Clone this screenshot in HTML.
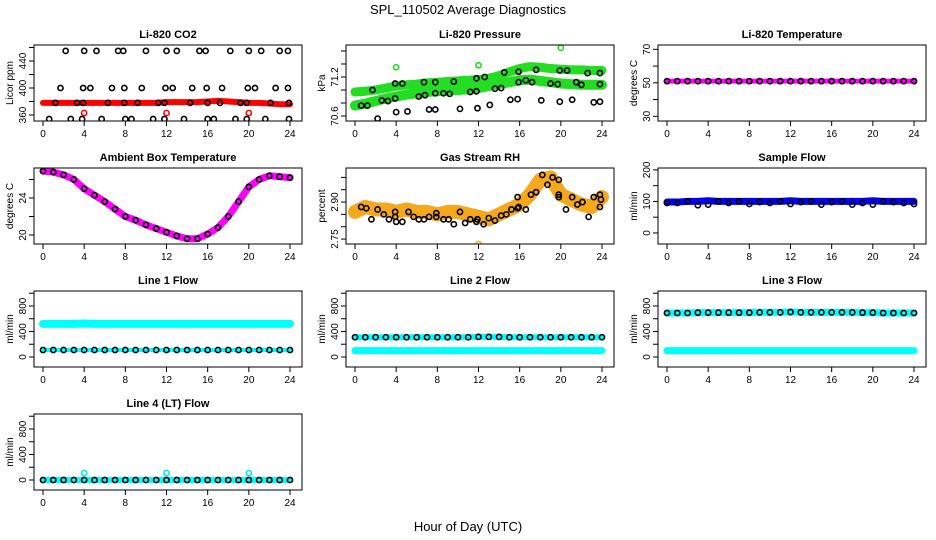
<!DOCTYPE html>
<html><head><meta charset="utf-8"><style>
body{margin:0;background:#fff;}
svg{display:block;font-family:"Liberation Sans",sans-serif;}
</style></head><body>
<svg id="c" width="936" height="540" viewBox="0 0 936 540">
<text x="468" y="14" text-anchor="middle" font-size="13">SPL_110502  Average Diagnostics</text>
<text x="468" y="531" text-anchor="middle" font-size="13">Hour of Day (UTC)</text>
</svg>
<script>
// ---------- data ----------
const hours = [0,1,2,3,4,5,6,7,8,9,10,11,12,13,14,15,16,17,18,19,20,21,22,23,24];
const xTicks = [0,4,8,12,16,20,24];

const co2Band = [378,378,378,378,378,378,378,378,378,378,378,378,379,379,379,379,380,381,380,379,378,378,377,376,376];
const co2TopH = [2.2,4,5.2,7.3,7.8,10,12,13,15.2,15.8,18.2,20,21.2,23,23.8];
const co2TopV = [455,455,455,455,455,455,455,455,455,455,455,455,455,455,455];
const co2MidH = [1.7,3.9,4.6,6.7,7.9,9.6,11.9,12.6,14.5,15.9,17.4,19.9,20.6,22.6,23.8];
const co2MidV = [400,400,400,400,400,400,400,400,400,400,400,400,400,400,400];
const co2LowH = [1.2,3.3,3.9,6.3,7.9,9.2,11.2,11.8,14.3,16,17.2,19.2,19.8,22.1,23.9];
const co2LowV = [378,378,378,378,378,378,378,378,378,378,378,378,378,378,378];
const co2BotH = [0.6,2.7,3.8,5.7,8,8.6,10.7,11.8,13.7,16,16.6,18.7,19.8,21.6,23.9];
const co2BotV = [354,354,354,354,354,354,354,354,354,354,354,354,354,354,354];
const co2RedH = [4,12,20];
const co2RedV = [363,363,363];

const presUpper = [70.97,70.98,71.0,71.03,71.06,71.08,71.09,71.11,71.12,71.13,71.14,71.15,71.16,71.18,71.22,71.28,71.33,71.36,71.35,71.33,71.32,71.31,71.31,71.30,71.30];
const presLower = [70.76,70.79,70.83,70.87,70.9,70.93,70.95,70.97,70.98,70.99,71.0,71.01,71.03,71.06,71.09,71.12,71.15,71.16,71.14,71.12,71.1,71.09,71.08,71.08,71.08];
const presUpH = [1.7,3.9,4.6,6.7,7.8,9.6,11.8,12.6,14.5,15.9,17.6,19.9,20.6,22.6,23.8];
const presUpV = [71.0,71.1,71.1,71.12,71.12,71.13,71.18,71.2,71.27,71.28,71.31,71.3,71.3,71.26,71.26];
const presLoH = [0.6,1.2,2.6,3.2,3.9,6.2,6.8,7.8,8.6,9.2,11.2,11.8,13.6,14.2,15.9,16.6,17.2,19,19.7,21.5,22,23.8];
const presLoV = [70.76,70.76,70.84,70.83,70.87,70.9,70.92,70.95,70.95,70.94,70.97,70.98,71.02,71.03,71.12,71.15,71.12,71.1,71.09,71.12,71.08,71.09];
const presBotH = [2.2,4,5.1,7.2,7.8,10.2,11.9,13.1,15.1,15.8,18.1,19.9,21.1,23.2,23.8];
const presBotV = [70.56,70.66,70.67,70.7,70.7,70.71,70.72,70.77,70.85,70.86,70.84,70.82,70.85,70.81,70.82];
const presGrnH = [4,12,20];
const presGrnV = [71.35,71.38,71.65];

const tempVals = [51,51,51,51,51,51,51,51,51,51,51,51,51,51,51,51,51,51,51,51,51,51,51,51,51];

const ambVals = [26.9,26.8,26.5,26.0,25.0,24.3,23.6,22.8,22.0,21.6,21.1,20.7,20.3,19.9,19.6,19.6,20.1,20.8,22.0,23.6,25.2,26.0,26.4,26.3,26.2];

const rhBand = [2.86,2.88,2.87,2.87,2.86,2.87,2.86,2.86,2.85,2.86,2.86,2.85,2.84,2.83,2.85,2.87,2.89,2.93,2.99,3.00,2.93,2.91,2.89,2.88,2.92];
const rhH = [0.6,1.1,2.2,1.6,2.8,3.3,3.9,3.9,4,4.6,5.2,5.7,6.2,6.7,7.2,7.9,7.9,8.6,9.1,9.6,10.2,10.7,11.2,11.9,11.8,12.5,13,13.6,14.2,14.7,15.2,15.8,15.8,15.9,16.6,17.1,17.6,18.2,18.7,19.2,19.8,19.8,19.8,20.5,21.1,21.6,22.1,22.7,23.2,23.8,23.8,23.9];
const rhV = [2.88,2.875,2.87,2.83,2.85,2.83,2.86,2.84,2.82,2.82,2.86,2.84,2.83,2.83,2.84,2.855,2.84,2.83,2.83,2.81,2.86,2.815,2.83,2.83,2.82,2.81,2.835,2.825,2.845,2.85,2.87,2.875,2.92,2.88,2.87,2.93,2.94,3.01,2.97,3.0,2.99,2.93,2.92,2.87,2.92,2.89,2.9,2.84,2.92,2.93,2.88,2.91];
const rhOutH = [12];
const rhOutV = [2.73];

const sampleBand = [98,98,100,100,102,100,100,100,100,100,100,100,102,100,100,100,100,100,100,100,102,100,100,100,100];
const sampleVals = [95,95,100,88,90,100,95,100,92,98,95,100,92,98,100,90,98,100,90,95,90,100,98,95,92];

const l1Cyan = [520,520,520,520,525,520,520,520,520,520,520,520,520,520,520,520,520,520,520,520,520,520,520,520,520];
const l1Black = [110,110,110,110,110,110,110,110,110,110,110,110,110,110,110,110,110,110,110,110,110,110,110,110,110];
const l2Black = [310,310,310,310,310,310,310,310,310,310,310,310,315,315,315,310,310,310,310,310,310,310,310,310,310];
const l2Cyan = [100,100,100,100,100,100,100,100,100,100,100,100,100,100,100,100,100,100,100,100,100,100,100,100,100];
const l3Black = [690,690,690,695,695,695,695,695,695,700,700,700,705,700,700,700,700,700,700,695,695,690,690,690,690];
const l3Cyan = [100,100,100,100,100,100,100,100,100,100,100,100,100,100,100,100,100,100,100,100,100,100,100,100,100];
const l4Vals = [0,0,0,0,0,0,0,0,0,0,0,0,0,0,0,0,0,0,0,0,0,0,0,0,0];
const l4SpikeH = [4,12,20];
const l4SpikeV = [110,110,110];

// ---------- drawing ----------
const NS = "http://www.w3.org/2000/svg";
const svg = document.getElementById('c');
function mk(tag, attrs, parent){
  const e = document.createElementNS(NS, tag);
  for (const k in attrs) e.setAttribute(k, attrs[k]);
  (parent||svg).appendChild(e);
  return e;
}

function panel(cfg){
  const ox = cfg.col*312, top = 45 + cfg.row*123, bot = top+76;
  const L = ox+34, R = ox+302;
  const g = mk('g', {});
  
  
  const xs = h => ox+43 + h*(247/24);
  const ys = v => bot - (v-cfg.ymin)/(cfg.ymax-cfg.ymin)*76;
  // title
  const t = mk('text', {x:(L+R)/2, y:top-7, 'text-anchor':'middle','font-size':11,'font-weight':'bold'}, g);
  t.textContent = cfg.title;
  
  
  // series
  const clip = 'clip'+cfg.col+cfg.row;
  const cp = mk('clipPath', {id:clip}, g);
  mk('rect', {x:L, y:top, width:R-L, height:76}, cp);
  const sg = mk('g', {'clip-path':'url(#'+clip+')'}, g);
  cfg.series.forEach(s=>{
    if (s.type==='band'){
      const pts = hours.map((h,i)=>xs(h)+','+ys(s.v[i])).join(' ');
      const p = mk('polyline', {points:pts, fill:'none', stroke:s.color, 'stroke-width':s.w, 'stroke-linejoin':'round','stroke-linecap':'round'}, sg);
      
      
    } else {
      const hh = s.h || hours;
      hh.forEach((h,i)=>{
        const c = mk('circle', {cx:xs(h), cy:ys(s.v[i]), r:s.r||2.6, fill:'none', stroke:s.color, 'stroke-width':1.6}, sg);
        
        
      });
    }
  });
  // box
  const box = mk('rect', {x:L, y:top, width:R-L, height:76, fill:'none', stroke:'#000','stroke-width':1}, g);
  
  
  // x axis
  xTicks.forEach(h=>{
    mk('line', {x1:xs(h), x2:xs(h), y1:bot, y2:bot+5, stroke:'#000'}, g);
    const tl = mk('text', {x:xs(h), y:bot+16, 'text-anchor':'middle','font-size':10}, g);
    tl.textContent = h;
    
    
  });
  // y axis
  cfg.yticks.forEach(v=>{
    mk('line', {x1:L-5, x2:L, y1:ys(v), y2:ys(v), stroke:'#000'}, g);
  });
  cfg.ylabels.forEach(v=>{
    const yl = mk('text', {x:0,y:0,'text-anchor':'middle','font-size':10, transform:'translate('+(L-8)+','+ys(v)+') rotate(-90)'}, g);
    yl.textContent = v;
    
    
  });
  const ya = mk('text', {x:0,y:0,'text-anchor':'middle','font-size':10, transform:'translate('+(L-21)+','+(top+38)+') rotate(-90)'}, g);
  ya.textContent = cfg.ylab;
  
  
}

panel({name:'co2-panel', col:0,row:0,title:'Li-820 CO2',ylab:'Licor ppm',ymin:351.1,ymax:463.7,
  yticks:[360,380,400,420,440,460], ylabels:[360,400,440],
  series:[{type:'band',v:co2Band,color:'#ff0000',w:6,name:'co2-band'},
    {type:'pts',h:co2TopH,v:co2TopV,color:'#000',name:'co2-point'},
    {type:'pts',h:co2MidH,v:co2MidV,color:'#000',name:'co2-point'},
    {type:'pts',h:co2LowH,v:co2LowV,color:'#000',name:'co2-point'},
    {type:'pts',h:co2BotH,v:co2BotV,color:'#000',name:'co2-point'},
    {type:'pts',h:co2RedH,v:co2RedV,color:'#ff0000',name:'co2-red-point'}]});

panel({name:'pressure-panel', col:1,row:0,title:'Li-820 Pressure',ylab:'kPa',ymin:70.523,ymax:71.692,
  yticks:[70.6,70.8,71.0,71.2,71.4,71.6], ylabels:[70.6,71.2],
  series:[{type:'band',v:presUpper,color:'#22dd22',w:9,name:'pressure-upper-band'},
    {type:'band',v:presLower,color:'#22dd22',w:10,name:'pressure-lower-band'},
    {type:'pts',h:presUpH,v:presUpV,color:'#000',name:'pressure-point'},
    {type:'pts',h:presLoH,v:presLoV,color:'#000',name:'pressure-point'},
    {type:'pts',h:presBotH,v:presBotV,color:'#000',name:'pressure-point'},
    {type:'pts',h:presGrnH,v:presGrnV,color:'#22dd22',name:'pressure-green-point'}]});

panel({name:'temperature-panel', col:2,row:0,title:'Li-820 Temperature',ylab:'degrees C',ymin:27.2,ymax:72.6,
  yticks:[30,40,50,60,70], ylabels:[30,50,70],
  series:[{type:'band',v:tempVals,color:'#ff00ff',w:5,name:'temperature-band'},
    {type:'pts',v:tempVals,color:'#000',name:'temperature-point'}]});

panel({name:'ambient-panel', col:0,row:1,title:'Ambient Box Temperature',ylab:'degrees C',ymin:19.03,ymax:27.24,
  yticks:[20,22,24,26], ylabels:[20,24],
  series:[{type:'band',v:ambVals,color:'#ff00ff',w:7,name:'ambient-band'},
    {type:'pts',v:ambVals,color:'#000',name:'ambient-point'}]});

panel({name:'rh-panel', col:1,row:1,title:'Gas Stream RH',ylab:'percent',ymin:2.730,ymax:3.038,
  yticks:[2.75,2.80,2.85,2.90,2.95,3.00], ylabels:['2.75','2.90'],
  series:[{type:'band',v:rhBand,color:'#f5a81c',w:14,name:'rh-band'},
    {type:'pts',h:rhH,v:rhV,color:'#000',name:'rh-point'},
    {type:'pts',h:rhOutH,v:rhOutV,color:'#f5a81c',name:'rh-outlier'}]});

panel({name:'sample-flow-panel', col:2,row:1,title:'Sample Flow',ylab:'ml/min',ymin:-35,ymax:206,
  yticks:[0,50,100,150,200], ylabels:[0,100,200],
  series:[{type:'band',v:sampleBand,color:'#0000ff',w:7,name:'sample-flow-band'},
    {type:'pts',v:sampleVals,color:'#000',name:'sample-flow-point'}]});

panel({name:'line1-panel', col:0,row:2,title:'Line 1 Flow',ylab:'ml/min',ymin:-157,ymax:1035,
  yticks:[0,200,400,600,800,1000], ylabels:[0,400,800],
  series:[{type:'band',v:l1Cyan,color:'#00ffff',w:8,name:'line1-cyan-band'},
    {type:'band',v:l1Black,color:'#00ffff',w:4,name:'line1-low-band'},
    {type:'pts',v:l1Black,color:'#000',name:'line1-point'}]});

panel({name:'line2-panel', col:1,row:2,title:'Line 2 Flow',ylab:'ml/min',ymin:-157,ymax:1035,
  yticks:[0,200,400,600,800,1000], ylabels:[0,400,800],
  series:[{type:'band',v:l2Black,color:'#00ffff',w:6,name:'line2-high-band'},
    {type:'band',v:l2Cyan,color:'#00ffff',w:7,name:'line2-cyan-band'},
    {type:'pts',v:l2Black,color:'#000',name:'line2-point'}]});

panel({name:'line3-panel', col:2,row:2,title:'Line 3 Flow',ylab:'ml/min',ymin:-157,ymax:1035,
  yticks:[0,200,400,600,800,1000], ylabels:[0,400,800],
  series:[{type:'band',v:l3Black,color:'#00ffff',w:7,name:'line3-high-band'},
    {type:'band',v:l3Cyan,color:'#00ffff',w:7,name:'line3-cyan-band'},
    {type:'pts',v:l3Black,color:'#000',name:'line3-point'}]});

panel({name:'line4-panel', col:0,row:3,title:'Line 4 (LT) Flow',ylab:'ml/min',ymin:-157,ymax:1035,
  yticks:[0,200,400,600,800,1000], ylabels:[0,400,800],
  series:[{type:'band',v:l4Vals,color:'#00ffff',w:6,name:'line4-band'},
    {type:'pts',v:l4Vals,color:'#000',name:'line4-point'},
    {type:'pts',h:l4SpikeH,v:l4SpikeV,color:'#00e5e5',name:'line4-spike'}]});
</script>
</body></html>
